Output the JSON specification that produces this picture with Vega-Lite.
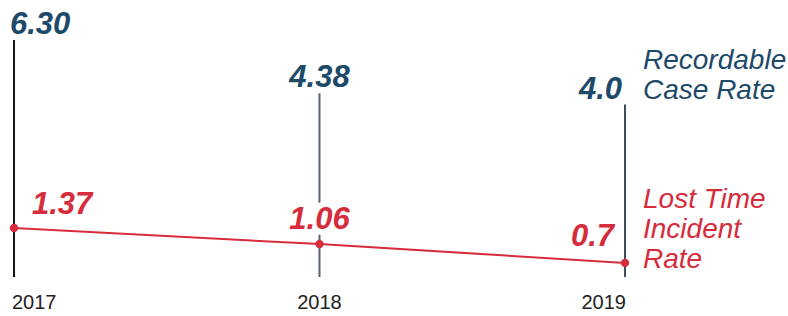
{
  "$schema": "https://vega.github.io/schema/vega-lite/v6.json",
  "width": 611,
  "height": 237,
  "autosize": {"type": "none"},
  "padding": {"left": 14, "top": 40, "right": 163, "bottom": 39},
  "background": "white",
  "config": {"view": {"stroke": null}, "font": "Liberation Sans"},
  "data": {"values": [
    {"year": 2017, "rcr": 6.30, "rcr_label": "6.30", "lti": 1.37, "lti_label": "1.37"},
    {"year": 2018, "rcr": 4.38, "rcr_label": "4.38", "lti": 1.06, "lti_label": "1.06"},
    {"year": 2019, "rcr": 4.0, "rcr_label": "4.0", "lti": 0.7, "lti_label": "0.7"}
  ]},
  "encoding": {
    "x": {
      "field": "year", "type": "quantitative",
      "scale": {"domain": [2017, 2019], "nice": false, "zero": false},
      "axis": null
    }
  },
  "layer": [
    {
      "mark": {"type": "rule", "strokeWidth": 2},
      "encoding": {
        "y": {"field": "rcr", "type": "quantitative", "scale": {"type": "pow", "exponent": 0.7, "domain": [0, 6.3], "nice": false}, "axis": null},
        "y2": {"datum": 0},
        "color": {"field": "year", "type": "ordinal", "scale": {"domain": [2017, 2018, 2019], "range": ["#151515", "#56626d", "#3f4d5a"]}, "legend": null}
      }
    },
    {
      "transform": [{"filter": "datum.year == 2017"}],
      "mark": {"type": "text", "fontSize": 20, "color": "#222222", "baseline": "top", "align": "left", "dx": -2, "dy": 16},
      "encoding": {
        "y": {"datum": 0, "type": "quantitative", "scale": {"type": "pow", "exponent": 0.7, "domain": [0, 6.3], "nice": false}, "axis": null},
        "text": {"field": "year", "type": "quantitative", "format": "d"}
      }
    },
    {
      "transform": [{"filter": "datum.year == 2018"}],
      "mark": {"type": "text", "fontSize": 20, "color": "#222222", "baseline": "top", "align": "center", "dx": 0, "dy": 16},
      "encoding": {
        "y": {"datum": 0, "type": "quantitative", "scale": {"type": "pow", "exponent": 0.7, "domain": [0, 6.3], "nice": false}, "axis": null},
        "text": {"field": "year", "type": "quantitative", "format": "d"}
      }
    },
    {
      "transform": [{"filter": "datum.year == 2019"}],
      "mark": {"type": "text", "fontSize": 20, "color": "#222222", "baseline": "top", "align": "right", "dx": 1, "dy": 16},
      "encoding": {
        "y": {"datum": 0, "type": "quantitative", "scale": {"type": "pow", "exponent": 0.7, "domain": [0, 6.3], "nice": false}, "axis": null},
        "text": {"field": "year", "type": "quantitative", "format": "d"}
      }
    },
    {
      "transform": [{"filter": "datum.year == 2017"}],
      "mark": {"type": "text", "fontSize": 31, "fontWeight": "bold", "fontStyle": "italic", "color": "#1d4a69", "baseline": "alphabetic", "align": "left", "dx": -4, "dy": -6},
      "encoding": {
        "y": {"field": "rcr", "type": "quantitative", "scale": {"type": "pow", "exponent": 0.7, "domain": [0, 6.3], "nice": false}, "axis": null},
        "text": {"field": "rcr_label"}
      }
    },
    {
      "transform": [{"filter": "datum.year == 2018"}],
      "mark": {"type": "text", "fontSize": 31, "fontWeight": "bold", "fontStyle": "italic", "color": "#1d4a69", "baseline": "alphabetic", "align": "center", "dx": 0, "dy": -6},
      "encoding": {
        "y": {"field": "rcr", "type": "quantitative", "scale": {"type": "pow", "exponent": 0.7, "domain": [0, 6.3], "nice": false}, "axis": null},
        "text": {"field": "rcr_label"}
      }
    },
    {
      "transform": [{"filter": "datum.year == 2019"}],
      "mark": {"type": "text", "fontSize": 31, "fontWeight": "bold", "fontStyle": "italic", "color": "#1d4a69", "baseline": "alphabetic", "align": "right", "dx": -3, "dy": -6},
      "encoding": {
        "y": {"field": "rcr", "type": "quantitative", "scale": {"type": "pow", "exponent": 0.7, "domain": [0, 6.3], "nice": false}, "axis": null},
        "text": {"field": "rcr_label"}
      }
    },
    {
      "transform": [{"filter": "datum.year == 2019"}],
      "mark": {"type": "text", "text": ["Recordable", "Case Rate"], "lineHeight": 30, "fontSize": 28, "fontStyle": "italic", "color": "#1d4a69", "baseline": "alphabetic", "align": "left", "dx": 18, "dy": -36},
      "encoding": {
        "y": {"field": "rcr", "type": "quantitative", "scale": {"type": "pow", "exponent": 0.7, "domain": [0, 6.3], "nice": false}, "axis": null}
      }
    },
    {
      "transform": [{"filter": "datum.year == 2018"}],
      "mark": {"type": "text", "fontSize": 31, "fontWeight": "bold", "fontStyle": "italic", "color": "white", "stroke": "white", "strokeWidth": 12, "baseline": "alphabetic", "align": "center", "dy": -15},
      "encoding": {
        "y": {"field": "lti", "type": "quantitative", "scale": {"domain": [0.43, 4.97], "nice": false, "zero": false}, "axis": null},
        "text": {"field": "lti_label"}
      }
    },
    {
      "mark": {"type": "line", "color": "#d62c3c", "strokeWidth": 2, "point": {"filled": true, "size": 70, "color": "#d62c3c"}},
      "encoding": {
        "y": {"field": "lti", "type": "quantitative", "scale": {"domain": [0.43, 4.97], "nice": false, "zero": false}, "axis": null}
      }
    },
    {
      "transform": [{"filter": "datum.year == 2017"}],
      "mark": {"type": "text", "fontSize": 31, "fontWeight": "bold", "fontStyle": "italic", "color": "#d62c3c", "baseline": "alphabetic", "align": "left", "dx": 18, "dy": -14},
      "encoding": {
        "y": {"field": "lti", "type": "quantitative", "scale": {"domain": [0.43, 4.97], "nice": false, "zero": false}, "axis": null},
        "text": {"field": "lti_label"}
      }
    },
    {
      "transform": [{"filter": "datum.year == 2018"}],
      "mark": {"type": "text", "fontSize": 31, "fontWeight": "bold", "fontStyle": "italic", "color": "#d62c3c", "baseline": "alphabetic", "align": "center", "dy": -15},
      "encoding": {
        "y": {"field": "lti", "type": "quantitative", "scale": {"domain": [0.43, 4.97], "nice": false, "zero": false}, "axis": null},
        "text": {"field": "lti_label"}
      }
    },
    {
      "transform": [{"filter": "datum.year == 2019"}],
      "mark": {"type": "text", "fontSize": 31, "fontWeight": "bold", "fontStyle": "italic", "color": "#d62c3c", "baseline": "alphabetic", "align": "right", "dx": -11, "dy": -17},
      "encoding": {
        "y": {"field": "lti", "type": "quantitative", "scale": {"domain": [0.43, 4.97], "nice": false, "zero": false}, "axis": null},
        "text": {"field": "lti_label"}
      }
    },
    {
      "transform": [{"filter": "datum.year == 2019"}],
      "mark": {"type": "text", "text": ["Lost Time", "Incident", "Rate"], "lineHeight": 30, "fontSize": 28, "fontStyle": "italic", "color": "#d62c3c", "baseline": "alphabetic", "align": "left", "dx": 18, "dy": -55},
      "encoding": {
        "y": {"field": "lti", "type": "quantitative", "scale": {"domain": [0.43, 4.97], "nice": false, "zero": false}, "axis": null}
      }
    }
  ],
  "resolve": {"scale": {"y": "independent"}}
}
